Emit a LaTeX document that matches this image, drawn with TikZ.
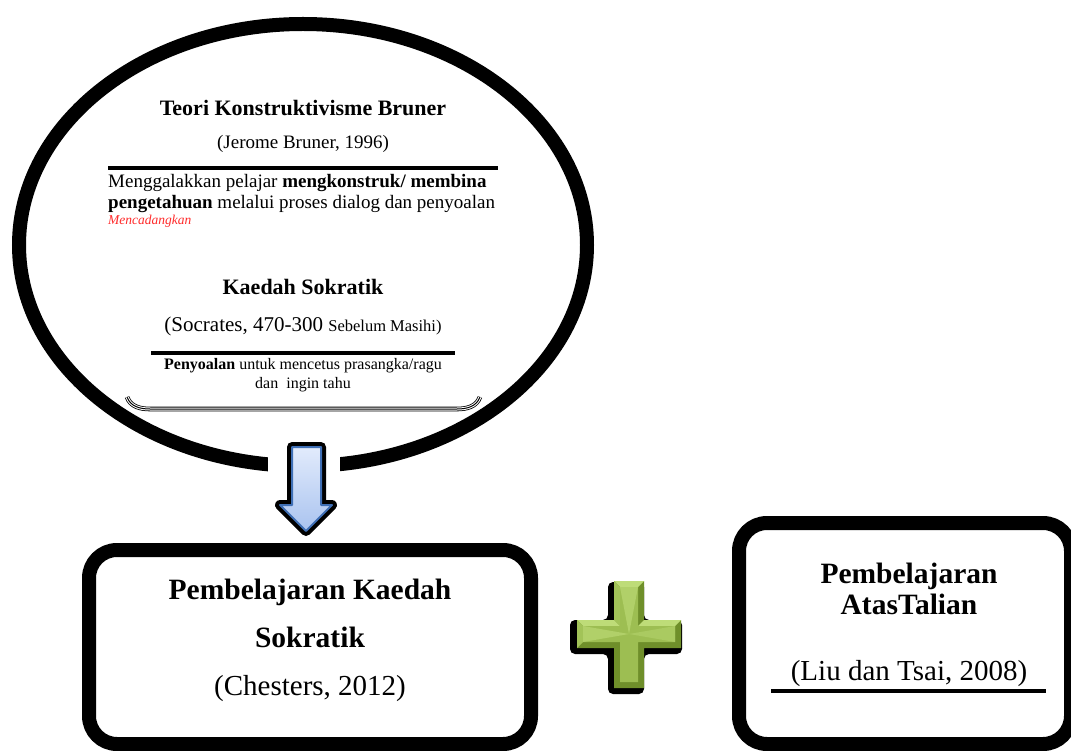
\documentclass[tikz,border=0pt]{standalone}
\usepackage{fontspec}
\setmainfont{Liberation Serif}
\usetikzlibrary{shapes.geometric}
\definecolor{redtxt}{HTML}{FF2A2A}
\definecolor{arrowblue}{HTML}{3F6FB5}
\definecolor{arrowtop}{HTML}{E2EBFC}
\definecolor{arrowbot}{HTML}{A9C3EF}
\definecolor{gdark}{HTML}{6F8F2A}
\definecolor{gmid}{HTML}{9DBE52}
\definecolor{glight}{HTML}{BEDC78}
\tikzset{
  bubble/.style={ellipse, draw, line width=14pt, minimum width=568pt, minimum height=442pt, inner sep=0pt},
  bigbox/.style={draw, line width=14pt, rounded corners=28pt, inner sep=0pt},
  rule/.style={line width=3.5pt},
  txt/.style={inner sep=0pt, anchor=base, font=\fontsize{19}{22}\selectfont},
  btitle/.style={inner sep=0pt, anchor=base, font=\bfseries\fontsize{22}{25}\selectfont},
  small/.style={inner sep=0pt, anchor=base, font=\fontsize{16}{19}\selectfont},
  boxb/.style={inner sep=0pt, anchor=base, font=\bfseries\fontsize{29.5}{33}\selectfont},
  boxr/.style={inner sep=0pt, anchor=base, font=\fontsize{29}{33}\selectfont},
}
\begin{document}
\begin{tikzpicture}[x=1pt,y=-1pt]
\useasboundingbox (0,0) rectangle (1071,751);
% bubble
\node[bubble] (ell) at (303,245) {};
% texts in bubble
\node[btitle] (t1) at (303,116) {Teori Konstruktivisme Bruner};
\node[txt] (t2) at (303,149) {(Jerome Bruner, 1996)};
\coordinate (r1a) at (108,168);
\coordinate (r1b) at (498,168);
\draw[rule] (r1a) -- (r1b);
\node[txt, anchor=base west] (p1) at (108,188) {Menggalakkan pelajar \textbf{mengkonstruk/ membina}};
\node[txt, anchor=base west] (p2) at (108,209) {\textbf{pengetahuan} melalui proses dialog dan penyoalan};
\node[inner sep=0pt, anchor=base west, text=redtxt, font=\itshape\fontsize{13.5}{15}\selectfont] (p3) at (108,225) {Mencadangkan};
\node[btitle] (k1) at (303,295) {Kaedah Sokratik};
\node[inner sep=0pt, anchor=base] (k2) at (303,332) {{\fontsize{21}{24}\selectfont (Socrates, 470-300 }{\fontsize{16.5}{18}\selectfont Sebelum Masihi)}};
\coordinate (r2a) at (151,353);
\coordinate (r2b) at (455,353);
\draw[rule] (r2a) -- (r2b);
\node[small] (k3) at (303,369) {\textbf{Penyoalan} untuk mencetus prasangka/ragu};
\node[small] (k4) at (303,388) {dan\ \ ingin tahu};
% double bracket line
\coordinate (d1) at (127,397);
\coordinate (d2) at (480,397);
\draw[line width=4.6pt] (d1) to[out=-70,in=180] (150,409) -- (457,409) to[out=0,in=-110] (d2);
\draw[line width=3pt, white] (d1) to[out=-70,in=180] (150,409) -- (457,409) to[out=0,in=-110] (d2);
\draw[line width=1pt] (d1) to[out=-70,in=180] (150,409) -- (457,409) to[out=0,in=-110] (d2);
% gap in the bubble
\fill[white] (268,440) rectangle (340,482);
% block arrow
\coordinate (ar0) at (306,531);
\draw[line width=10pt, line join=round, black] (292,447) -- (321,447) -- (321,505) -- (332,505) -- (ar0) -- (280,505) -- (292,505) -- cycle;
\shade[top color=arrowtop, bottom color=arrowbot, draw=arrowblue, line width=2pt, line join=round] (292,447) -- (321,447) -- (321,505) -- (332,505) -- (ar0) -- (280,505) -- (292,505) -- cycle;
% boxes
\node[bigbox, minimum width=442pt, minimum height=194pt] (b1) at (310,647) {};
\node[bigbox, minimum width=332pt, minimum height=221pt] (b2) at (905,633.5) {};
\node[boxb] (b1t1) at (310,599) {Pembelajaran Kaedah};
\node[boxb] (b1t2) at (310,647) {Sokratik};
\node[boxr] (b1t3) at (310,695) {(Chesters, 2012)};
\node[boxb] (b2t1) at (909,583) {Pembelajaran};
\node[boxb] (b2t2) at (909,614) {AtasTalian};
\node[boxr] (b2t3) at (909,680) {(Liu dan Tsai, 2008)};
\coordinate (r3a) at (771,691);
\coordinate (r3b) at (1046,691);
\draw[line width=3.5pt] (r3a) -- (r3b);
% plus sign
\begin{scope}[shift={(629,634)}]
\fill[black, rounded corners=5pt, shift={(-3,3)}] (-18,-55) -- (18,-55) -- (18,-17) -- (56,-17) -- (56,17) -- (18,17) -- (18,57) -- (-18,57) -- (-18,17) -- (-56,17) -- (-56,-17) -- (-18,-17) -- cycle;
\fill[gdark] (-15,-53) -- (15,-53) -- (15,-14) -- (52,-14) -- (52,14) -- (15,14) -- (15,54) -- (-15,54) -- (-15,14) -- (-52,14) -- (-52,-14) -- (-15,-14) -- cycle;
\fill[glight] (-15,-53) -- (15,-53) -- (9,-47) -- (-9,-47) -- cycle;
\fill[glight] (-52,-14) -- (-15,-14) -- (-9,-8) -- (-46,-8) -- cycle;
\fill[glight] (15,-14) -- (52,-14) -- (46,-8) -- (9,-8) -- cycle;
\fill[gmid!85!glight] (-52,-14) -- (-46,-8) -- (-46,8) -- (-52,14) -- cycle;
\fill[gmid!85!glight] (-15,-53) -- (-9,-47) -- (-9,-8) -- (-15,-14) -- cycle;
\fill[gmid] (-9,-47) -- (9,-47) -- (9,-8) -- (46,-8) -- (46,8) -- (9,8) -- (9,48) -- (-9,48) -- (-9,8) -- (-46,8) -- (-46,-8) -- (-9,-8) -- cycle;
\fill[glight!60!gmid] (-9,-47) -- (9,-47) -- (0,0) -- cycle;
\fill[glight!60!gmid] (-46,-8) -- (0,0) -- (-46,8) -- cycle;
\fill[glight!40!gmid] (46,-8) -- (0,0) -- (46,8) -- cycle;
\end{scope}
\end{tikzpicture}
\end{document}
